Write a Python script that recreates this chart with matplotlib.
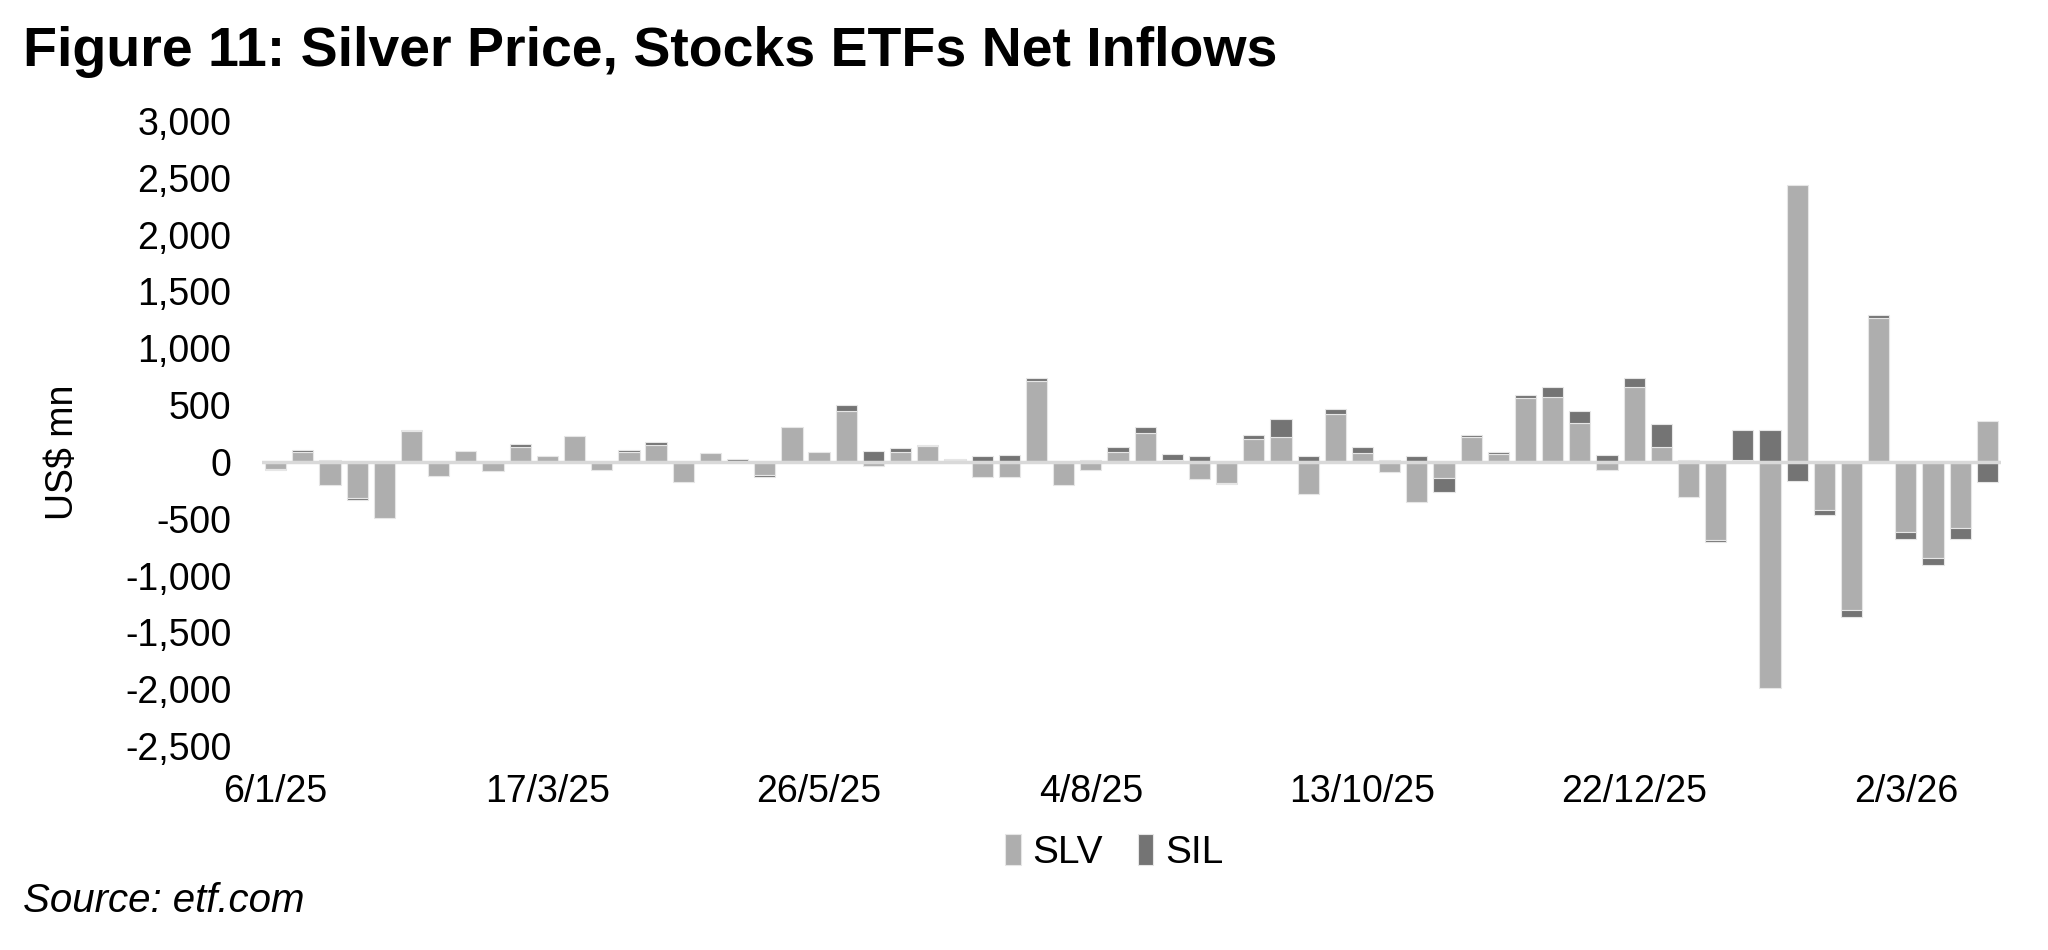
import numpy as np
import pandas as pd
import matplotlib
matplotlib.use("Agg")
import matplotlib.pyplot as plt

plt.rcParams['font.family'] = ['Liberation Sans', 'DejaVu Sans']

# weekly net inflows, US$ mn
weeks = pd.date_range('2025-01-06', periods=64, freq='7D')
slv = [-60, 88, -200, -320, -495, 270, -125, 100, -80, 130,
       50, 225, -70, 88, 150, -180, 75, 10, -118, 310,
       88, 450, -35, 88, 140, 15, -130, -130, 712, -205,
       -70, 88, 256, 18, -150, -185, 203, 215, -280, 420,
       80, -85, -350, -145, 215, 70, 560, 570, 340, -70,
       655, 130, -305, -690, 18, -1990, 2440, -420, -1300, 1270,
       -613, -843, -585, 360]
sil = [-10, 17, 15, -12, 0, 15, 0, 0, 0, 25,
       0, 0, 0, 17, 24, 0, 0, 12, -12, 0,
       0, 53, 100, 30, 5, 8, 50, 65, 26, 0,
       15, 44, 53, 55, 56, -12, 35, 165, 50, 42,
       53, 15, 50, -120, 25, 14, 29, 88, 110, 65,
       82, 205, 20, -14, 265, 280, -165, -50, -65, 25,
       -66, -65, -95, -180]
tick_every = 10
yticks = np.arange(-2500, 3001, 500)


def main():
    slv_a = np.array(slv, dtype=float)
    sil_a = np.array(sil, dtype=float)
    x = np.arange(len(weeks))
    # excel-style stacking: positives on positives, negatives on negatives
    same = np.sign(slv_a) == np.sign(sil_a)
    sil_bottom = np.where(same, slv_a, 0)

    fig = plt.figure(figsize=(20.48, 9.5), dpi=100)
    ax = fig.add_axes([0.128, 0.2147, 0.849, 0.658])

    ax.bar(x, slv_a, width=0.78, color='#AEAEAE', edgecolor='#E6E6E6',
           linewidth=0.8, label='SLV', zorder=2)
    ax.bar(x, sil_a, bottom=sil_bottom, width=0.78, color='#747474',
           edgecolor='#E6E6E6', linewidth=0.8, label='SIL', zorder=2)
    ax.axhline(0, color='#D9D9D9', lw=2.5, zorder=3)

    ax.set_xlim(-0.5, len(weeks) - 0.5)
    ax.set_ylim(-2500, 3000)
    ax.set_yticks(yticks)
    ax.set_yticklabels([f'{v:,}' for v in yticks])
    ticks = x[::tick_every]
    ax.set_xticks(ticks)
    ax.set_xticklabels([f'{d.day}/{d.month}/{d.strftime("%y")}' for d in weeks[ticks]])
    ax.tick_params(axis='both', length=0, labelsize=27)
    ax.tick_params(axis='x', pad=20)
    ax.tick_params(axis='y', pad=22)
    for s in ax.spines.values():
        s.set_visible(False)
    ax.set_ylabel('US$ mn', fontsize=27)
    ax.yaxis.set_label_coords(-0.104, 0.47)

    ax.legend(loc='center', bbox_to_anchor=(0.49, -0.17), ncol=2, frameon=False,
              fontsize=28, handlelength=0.4, handleheight=0.85, handletextpad=0.3,
              columnspacing=0.9)

    fig.text(0.011, 0.945, 'Figure 11: Silver Price, Stocks ETFs Net Inflows',
             fontsize=40, fontweight='bold', va='center', ha='left')
    fig.text(0.011, 0.052, 'Source: etf.com', fontsize=29, style='italic',
             va='center', ha='left')

    fig.savefig('out.png', dpi=100)


if __name__ == "__main__":
    main()
